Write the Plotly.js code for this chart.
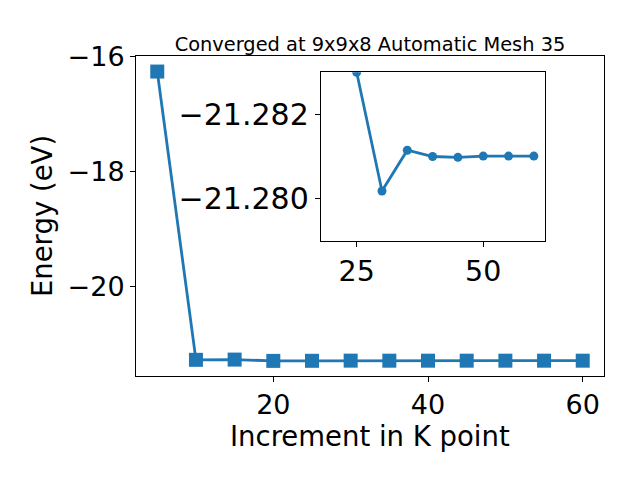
<!DOCTYPE html>
<html>
<head>
<meta charset="utf-8">
<script src="https://cdn.plot.ly/plotly-3.0.1.min.js"></script>
<style>html,body{margin:0;padding:0;background:#fff;}#chart{width:640px;height:480px;}</style>
</head>
<body>
<div id="chart"></div>
<script>
// K-point increments and total energies (eV)
const kPoints = [5, 10, 15, 20, 25, 30, 35, 40, 45, 50, 55, 60];
const energies = [-16.26, -21.266, -21.262, -21.2845, -21.2830, -21.28018, -21.28115, -21.28100, -21.28098, -21.28101, -21.28101, -21.28101];
const insetStartK = 25;
const titleText = "Converged at 9x9x8 Automatic Mesh 35";
const xLabel = "Increment in K point";
const yLabel = "Energy (eV)";

const startIdx = kPoints.indexOf(insetStartK);
const insetK = kPoints.slice(startIdx);
const insetE = energies.slice(startIdx);

const blue = '#1f77b4';
const font = 'DejaVu Sans, sans-serif';
const tickFont = {family: font, size: 27, color: '#000'};
const insetXTickFont = {family: font, size: 28.5, color: '#000'};
const insetYTickFont = {family: font, size: 30, color: '#000'};

const traces = [
  {x: kPoints, y: energies, type: 'scatter', mode: 'lines+markers',
   line: {color: blue, width: 2.8}, marker: {symbol: 'square', size: 14, color: blue},
   xaxis: 'x', yaxis: 'y', showlegend: false, hoverinfo: 'none'},
  {x: insetK, y: insetE, type: 'scatter', mode: 'lines+markers',
   line: {color: blue, width: 2.8}, marker: {symbol: 'circle', size: 9, color: blue},
   xaxis: 'x2', yaxis: 'y2', showlegend: false, hoverinfo: 'none'}
];

const axBase = {showline: true, mirror: true, linecolor: '#000', linewidth: 1,
  ticks: 'outside', ticklen: 5, tickwidth: 1, tickcolor: '#000',
  showgrid: false, zeroline: false, tickfont: tickFont};

const layout = {
  width: 640, height: 480,
  margin: {l: 136, r: 36, t: 56, b: 104},
  paper_bgcolor: '#fff', plot_bgcolor: '#fff',
  title: {text: titleText, font: {family: font, size: 19.4, color: '#000'},
          xref: 'paper', x: 0.5, xanchor: 'center', yref: 'container', y: 1 - 44/480, yanchor: 'middle'},
  xaxis: Object.assign({}, axBase, {domain: [0, 1], range: [2.25, 62.75], tickmode: 'linear', tick0: 0, dtick: 20, anchor: 'y'}),
  yaxis: Object.assign({}, axBase, {domain: [0, 1], range: [-21.547, -15.99], tickmode: 'linear', tick0: 0, dtick: 2,
    automargin: true, title: {text: yLabel, font: {family: font, size: 27.5, color: '#000'}, standoff: 6}, anchor: 'x'}),
  xaxis2: Object.assign({}, axBase, {domain: [0.3947, 0.8739], range: [17.9, 62.2], tickmode: 'linear', tick0: 0, dtick: 25, anchor: 'y2', tickfont: insetXTickFont}),
  yaxis2: Object.assign({}, axBase, {domain: [0.4228, 0.949], range: [-21.279, -21.283], tickmode: 'linear', tick0: -21.282, dtick: 0.002, tickformat: '.3f', anchor: 'x2', tickfont: insetYTickFont}),
  annotations: [
    {text: xLabel, xref: 'paper', yref: 'paper', x: 0.5, y: -0.186, xanchor: 'center', yanchor: 'middle',
     showarrow: false, borderpad: 0, font: {family: font, size: 27.5, color: '#000'}}
  ]
};

Plotly.newPlot('chart', traces, layout, {displayModeBar: false, staticPlot: true});
</script>
</body>
</html>
